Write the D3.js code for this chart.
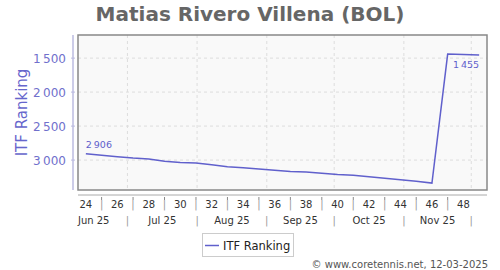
<!DOCTYPE html>
<html><head><meta charset="utf-8">
<script src="https://cdn.jsdelivr.net/npm/d3@7"></script>
<style>body{margin:0;background:#fff}svg{display:block;font-family:"DejaVu Sans",sans-serif}</style>
</head><body><svg id="c" width="500" height="270"></svg>
<script>
const title = "Matias Rivero Villena (BOL)";
const seriesName = "ITF Ranking";
const weeks = [24,25,26,27,28,29,30,31,32,33,34,35,36,37,38,39,40,41,42,43,44,45,46,47,48,49];
const ranking = [2906,2929,2951,2971,2984,3018,3035,3044,3069,3099,3113,3132,3150,3168,3176,3194,3212,3224,3246,3268,3290,3312,3338,1441,1448,1455];
const yTicks = [1500,2000,2500,3000];
const monthLabels = ["Jun 25","Jul 25","Aug 25","Sep 25","Oct 25","Nov 25"];
const footer = "© www.coretennis.net, 12-03-2025";

const svg = d3.select("#c");
const L=78,R=487,T=35,B=190;
const week1 = new Date(2024,11,30); // Monday of ISO week 1, 2025
const weekStart = w => d3.timeDay.offset(week1,(w-1)*7);
const weekMid = w => d3.timeHour.offset(weekStart(w),84);
const x = d3.scaleTime().domain([weekStart(24), weekStart(50)]).range([L,R]);
const y = d3.scaleLinear().domain([1160,3440]).range([T,B]);
const fmt = v => d3.format(",")(v).replace(",","\u2009");

// title
svg.append("text").attr("x",250).attr("y",21).attr("text-anchor","middle")
  .attr("font-size",20).attr("font-weight","bold").attr("fill","#666").text(title);

// plot bg
svg.append("rect").attr("x",L).attr("y",T).attr("width",R-L).attr("height",B-T).attr("fill","#f9f9f9");

// grid
const monthBounds = d3.range(6,12).map(m=>new Date(2025,m,1));
svg.append("g").selectAll("line").data(yTicks).join("line")
  .attr("x1",L).attr("x2",R).attr("y1",d=>y(d)).attr("y2",d=>y(d))
  .attr("stroke","#ddd").attr("stroke-dasharray","3,3");
svg.append("g").selectAll("line").data(monthBounds).join("line")
  .attr("x1",d=>x(d)).attr("x2",d=>x(d)).attr("y1",T).attr("y2",B)
  .attr("stroke","#ddd").attr("stroke-dasharray","3,3");

// border
svg.append("rect").attr("x",L).attr("y",T).attr("width",R-L).attr("height",B-T)
  .attr("fill","none").attr("stroke","#888").attr("stroke-width",1.5);

// y axis
svg.append("line").attr("x1",73).attr("x2",73).attr("y1",T).attr("y2",B).attr("stroke","#bbbbe0").attr("stroke-width",1.5);
svg.append("g").selectAll("line").data(yTicks).join("line")
  .attr("x1",71).attr("x2",75).attr("y1",d=>y(d)).attr("y2",d=>y(d)).attr("stroke","#bbbbe0");
svg.append("g").selectAll("text").data(yTicks).join("text")
  .attr("x",66).attr("y",d=>y(d)+4.5).attr("text-anchor","end").attr("font-size",12)
  .attr("fill","#7070cc").text(fmt);
svg.append("text").attr("transform","translate(27,"+((T+B)/2)+") rotate(-90)")
  .attr("text-anchor","middle").attr("font-size",15).attr("fill","#6666cc").text(seriesName);

// x axis
svg.append("line").attr("x1",L).attr("x2",R).attr("y1",195).attr("y2",195).attr("stroke","#aaa");
const oddWeeks = weeks.filter(w=>w%2===1 && w<49);
svg.append("g").selectAll("line").data(oddWeeks).join("line")
  .attr("x1",w=>x(weekMid(w))).attr("x2",w=>x(weekMid(w))).attr("y1",197).attr("y2",200).attr("stroke","#888");
svg.append("g").selectAll("text").data(weeks).join("text")
  .attr("x",w=>x(weekMid(w))).attr("y",208).attr("text-anchor","middle").attr("font-size",10)
  .attr("fill",w=>w%2?"#999":"#333").text(w=>w%2?(w<49?"|":""):w);
const monthMids = d3.range(5,11).map(m=>{const a=new Date(2025,m,1),b=new Date(2025,m+1,1);return new Date((+a + +b)/2);});
svg.append("g").selectAll("text").data(monthLabels).join("text")
  .attr("x",(d,i)=>x(monthMids[i])).attr("y",224).attr("text-anchor","middle").attr("font-size",10)
  .attr("fill","#333").text(d=>d);
svg.append("g").selectAll("text").data(monthBounds).join("text")
  .attr("x",d=>x(d)).attr("y",224).attr("text-anchor","middle").attr("font-size",10)
  .attr("fill","#999").text("|");

// line
const pts = weeks.map((w,i)=>({d:weekMid(w),v:ranking[i]}));
svg.append("path").datum(pts).attr("fill","none").attr("stroke","#6060cc").attr("stroke-width",1.5)
  .attr("d",d3.line().x(p=>x(p.d)).y(p=>y(p.v)));
const first=pts[0], last=pts[pts.length-1];
svg.append("text").attr("x",x(first.d)).attr("y",y(first.v)-6).attr("font-size",9.5).attr("fill","#6060cc").text(fmt(first.v));
svg.append("text").attr("x",x(last.d)).attr("y",y(last.v)+13).attr("text-anchor","end").attr("font-size",9.5).attr("fill","#6060cc").text(fmt(last.v));

// legend
svg.append("rect").attr("x",202.5).attr("y",233.5).attr("width",91).attr("height",23).attr("fill","#fff").attr("stroke","#ccc");
svg.append("line").attr("x1",205).attr("x2",219).attr("y1",245.5).attr("y2",245.5).attr("stroke","#6060cc").attr("stroke-width",1.5);
svg.append("text").attr("x",223).attr("y",250).attr("font-size",11.5).attr("fill","#222").text(seriesName);

// footer
svg.append("text").attr("x",488).attr("y",268).attr("text-anchor","end").attr("font-size",10).attr("fill","#555").text(footer);
</script></body></html>
